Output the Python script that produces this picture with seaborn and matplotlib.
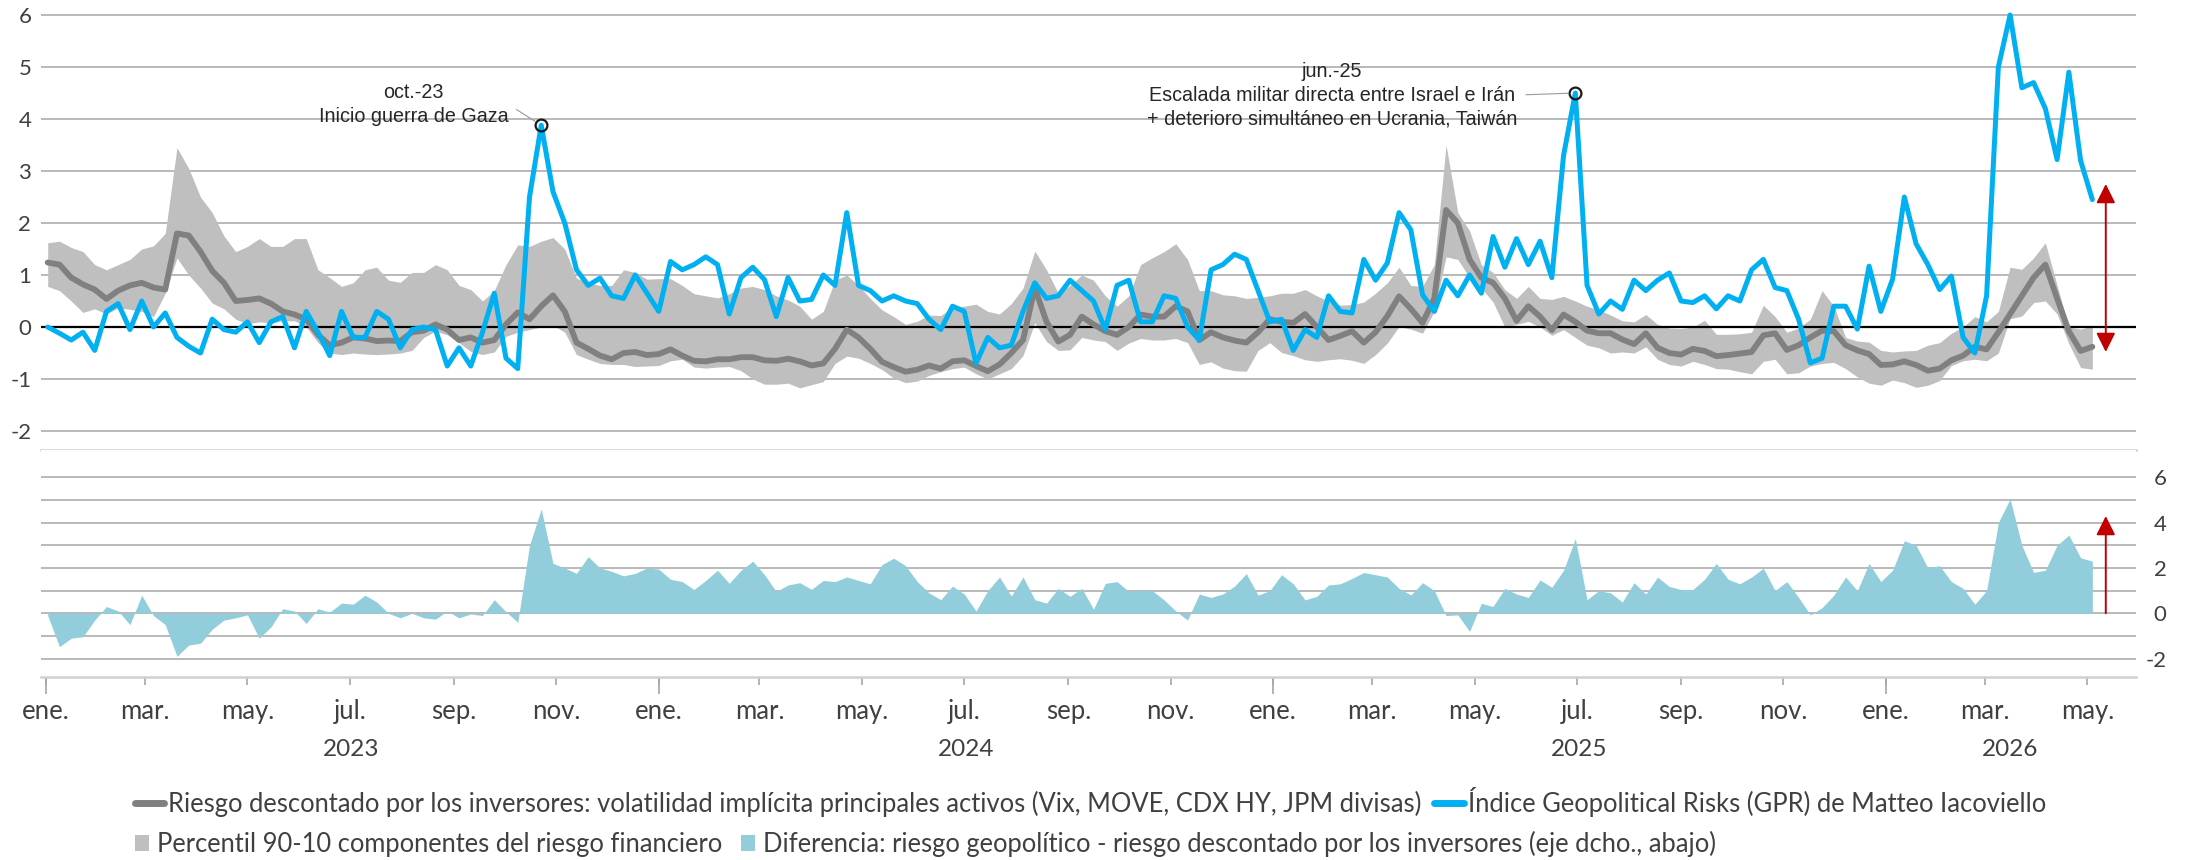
import numpy as np
import pandas as pd
import matplotlib
matplotlib.use("Agg")
import matplotlib.pyplot as plt
import matplotlib.dates as mdates
from matplotlib.ticker import FuncFormatter
from matplotlib.lines import Line2D
from matplotlib.patches import Patch
import seaborn as sns

# ---------------- data (weekly, starting 2023-01-02) ----------------
START = "2023-01-02"

gpr = [0.0, -0.12, -0.25, -0.1, -0.45, 0.3, 0.45, -0.05, 0.5, 0.0,
       0.27, -0.2, -0.37, -0.5, 0.15, -0.05, -0.1, 0.1, -0.3, 0.1,
       0.2, -0.4, 0.3, -0.1, -0.55, 0.3, -0.2, -0.2, 0.3, 0.15,
       -0.4, -0.05, 0.0, -0.05, -0.75, -0.4, -0.75, -0.1, 0.65, -0.6,
       -0.8, 2.5, 3.88, 2.6, 2.0,
       1.1, 0.8, 0.94, 0.6, 0.55, 1.0, 0.65, 0.3, 1.26, 1.1,
       1.2, 1.35, 1.2, 0.25, 0.95, 1.15, 0.91, 0.2, 0.95, 0.5,
       0.53, 1.0, 0.8, 2.2, 0.8, 0.7, 0.5, 0.6, 0.5, 0.45,
       0.15, -0.05, 0.4, 0.3, -0.7, -0.2, -0.4, -0.35, 0.3, 0.85,
       0.55, 0.6, 0.9, 0.7,
       0.5, -0.05, 0.8, 0.9, 0.1, 0.1, 0.6, 0.55, 0.0, -0.25,
       1.1, 1.2, 1.4, 1.3, 0.7, 0.1, 0.15, -0.45, -0.05, -0.2,
       0.6, 0.3, 0.27, 1.3, 0.9, 1.23, 2.2, 1.87, 0.62, 0.3,
       0.9, 0.6, 1.0, 0.65, 1.74, 1.15, 1.7, 1.2, 1.65, 0.95,
       3.3, 4.5, 0.8, 0.25,
       0.5, 0.34, 0.9, 0.7, 0.9, 1.04, 0.5, 0.47, 0.6, 0.35,
       0.6, 0.5, 1.1, 1.3, 0.76, 0.7, 0.15, -0.69, -0.6, 0.4,
       0.4, -0.04, 1.17, 0.3, 0.92, 2.5, 1.6, 1.2, 0.72, 0.98,
       -0.2, -0.5, 0.6, 5.0, 6.0, 4.6, 4.7, 4.2, 3.22, 4.9,
       3.2, 2.45]

riesgo = [1.24, 1.2, 0.95, 0.82, 0.72, 0.54, 0.7, 0.8, 0.85, 0.76,
          0.72, 1.8, 1.76, 1.45, 1.08, 0.85, 0.5, 0.52, 0.55, 0.45,
          0.3, 0.24, 0.15, -0.15, -0.35, -0.3, -0.2, -0.22, -0.27, -0.26,
          -0.27, -0.1, -0.07, 0.05, -0.05, -0.25, -0.2, -0.3, -0.25, 0.05,
          0.28, 0.15, 0.4, 0.61, 0.3,
          -0.3, -0.42, -0.55, -0.62, -0.5, -0.48, -0.54, -0.52, -0.43, -0.55,
          -0.65, -0.66, -0.62, -0.62, -0.58, -0.58, -0.64, -0.65, -0.61, -0.66,
          -0.74, -0.7, -0.42, -0.05, -0.2, -0.42, -0.67, -0.77, -0.86, -0.82,
          -0.74, -0.8, -0.66, -0.64, -0.75, -0.85, -0.72, -0.5, -0.25, 0.75,
          0.1, -0.28, -0.15, 0.2,
          0.05, -0.08, -0.15, 0.0, 0.24, 0.2, 0.2, 0.4, 0.3, -0.25,
          -0.1, -0.2, -0.26, -0.3, -0.1, 0.15, 0.1, 0.08, 0.25, 0.0,
          -0.25, -0.17, -0.08, -0.3, -0.1, 0.21, 0.59, 0.35, 0.08, 0.55,
          2.25, 2.0, 1.3, 0.95, 0.85, 0.55, 0.12, 0.4, 0.2, -0.06,
          0.24, 0.1, -0.07, -0.12,
          -0.12, -0.24, -0.33, -0.12, -0.4, -0.5, -0.53, -0.42, -0.46, -0.56,
          -0.54, -0.51, -0.48, -0.16, -0.12, -0.44, -0.35, -0.2, -0.07, -0.08,
          -0.35, -0.45, -0.52, -0.73, -0.72, -0.66, -0.73, -0.84, -0.8, -0.64,
          -0.55, -0.38, -0.43, -0.1, 0.25, 0.6, 0.95, 1.2, 0.55, -0.08,
          -0.46, -0.38]

p90 = [1.62, 1.65, 1.53, 1.45, 1.2, 1.1, 1.2, 1.3, 1.5, 1.56,
       1.8, 3.45, 3.05, 2.5, 2.2, 1.75, 1.45, 1.55, 1.7, 1.55,
       1.55, 1.7, 1.7, 1.1, 0.95, 0.78, 0.85, 1.1, 1.15, 0.9,
       0.86, 1.05, 1.05, 1.2, 1.1, 0.8, 0.72, 0.5, 0.7, 1.2,
       1.58, 1.55, 1.65, 1.72, 1.5,
       0.94, 0.85, 0.8, 0.8, 1.1, 1.05, 0.92, 0.93, 0.93, 0.8,
       0.64, 0.6, 0.56, 0.64, 0.75, 0.78, 0.72, 0.6, 0.52, 0.4,
       0.15, 0.3, 0.9, 1.0, 0.8, 0.55, 0.33, 0.2, 0.05, 0.11,
       0.23, 0.22, 0.38, 0.4, 0.44, 0.3, 0.25, 0.45, 0.75, 1.46,
       1.1, 0.65, 0.8, 1.0,
       0.9, 0.6, 0.4, 0.6, 1.2, 1.33, 1.45, 1.6, 1.3, 0.7,
       0.7, 0.62, 0.6, 0.55, 0.57, 0.6, 0.65, 0.65, 0.72, 0.6,
       0.5, 0.42, 0.43, 0.48, 0.65, 0.85, 1.15, 0.8, 0.78, 1.2,
       3.5, 2.2, 1.85, 1.2, 1.05, 0.72, 0.55, 0.78, 0.55, 0.53,
       0.59, 0.5, 0.4, 0.33,
       0.23, 0.12, 0.1, 0.24, 0.05, -0.02, -0.03, 0.0, 0.13, -0.14,
       -0.14, -0.13, -0.1, 0.42, 0.2, -0.1, -0.02, 0.15, 0.7, 0.4,
       -0.2, -0.27, -0.29, -0.45, -0.48, -0.46, -0.45, -0.35, -0.3, -0.12,
       0.0, 0.2, 0.1, 0.3, 1.15, 1.11, 1.33, 1.62, 0.8, 0.0,
       -0.04, 0.02]

p10 = [0.78, 0.7, 0.5, 0.28, 0.35, 0.25, 0.37, 0.34, 0.3, 0.2,
       0.65, 1.33, 1.0, 0.75, 0.46, 0.35, 0.15, 0.06, 0.1, 0.08,
       0.12, 0.12, 0.0, -0.3, -0.5, -0.53, -0.5, -0.52, -0.53, -0.52,
       -0.5, -0.45, -0.2, -0.08, -0.15, -0.3, -0.47, -0.53, -0.48, -0.18,
       -0.1, -0.05, 0.0, 0.03, -0.1,
       -0.53, -0.62, -0.7, -0.72, -0.72, -0.76, -0.75, -0.74, -0.65, -0.62,
       -0.77, -0.79, -0.77, -0.76, -0.84, -1.0, -1.1, -1.1, -1.08, -1.17,
       -1.11, -1.05, -0.7, -0.56, -0.6, -0.7, -0.82, -0.98, -1.07, -1.04,
       -0.93, -0.86, -0.8, -0.77, -0.9, -1.0, -0.9, -0.8, -0.55, 0.08,
       -0.28, -0.45, -0.44, -0.2,
       -0.25, -0.28, -0.45, -0.31, -0.22, -0.25, -0.25, -0.22, -0.3, -0.72,
       -0.67, -0.79, -0.84, -0.85, -0.45, -0.3, -0.49, -0.55, -0.63, -0.66,
       -0.63, -0.61, -0.64, -0.7, -0.53, -0.31, 0.01, -0.04, -0.12, 0.3,
       1.35, 1.3, 0.95, 0.75, 0.48, 0.0, 0.05, 0.11, 0.0, -0.16,
       -0.05, -0.2, -0.35, -0.4,
       -0.5, -0.48, -0.5, -0.38, -0.62, -0.72, -0.75, -0.66, -0.72, -0.8,
       -0.81, -0.86, -0.9, -0.66, -0.62, -0.9, -0.88, -0.75, -0.7, -0.68,
       -0.8, -0.96, -1.08, -1.12, -1.02, -1.07, -1.16, -1.12, -1.03, -0.74,
       -0.65, -0.62, -0.65, -0.5, 0.16, 0.21, 0.47, 0.5, 0.25, -0.32,
       -0.78, -0.81]

diferencia = [-0.1, -1.47, -1.1, -1.03, -0.3, 0.3, 0.1, -0.5, 0.8, -0.1,
              -0.5, -1.9, -1.4, -1.32, -0.7, -0.3, -0.2, -0.07, -1.1, -0.6,
              0.2, 0.1, -0.45, 0.2, 0.05, 0.45, 0.4, 0.8, 0.5, 0.0,
              -0.2, 0.0, -0.2, -0.26, 0.1, -0.2, -0.03, -0.1, 0.6, 0.07,
              -0.4, 3.0, 4.6, 2.2, 2.0, 1.76, 2.5, 2.0, 1.85, 1.65,
              1.76, 2.0, 1.95, 1.5, 1.4, 1.05, 1.45, 1.9, 1.32, 1.9,
              2.3, 1.7, 0.96, 1.25, 1.35, 1.06, 1.45, 1.4, 1.6, 1.45,
              1.3, 2.15, 2.43, 2.1, 1.4, 0.9, 0.6, 1.2, 0.85, 0.1,
              1.0, 1.6, 0.76, 1.6, 0.6, 0.45, 1.1, 0.75, 1.1, 0.18,
              1.32, 1.4, 0.96, 1.0, 1.0, 0.59, 0.1, -0.3, 0.85, 0.7,
              0.85, 1.2, 1.75, 0.8, 1.0, 1.7, 1.3, 0.59, 0.75, 1.25,
              1.3, 1.54, 1.8, 1.7, 1.6, 1.1, 0.81, 1.35, 1.0,
              -0.1, -0.07, -0.8, 0.44, 0.3, 1.1, 0.85, 0.7, 1.47, 1.15,
              1.9, 3.3, 0.6, 1.0, 0.9, 0.5, 1.35, 0.85, 1.6, 1.18,
              1.05, 1.05, 1.5, 2.2, 1.5, 1.3, 1.6, 1.99, 1.0, 1.4,
              0.7, -0.07, 0.25, 0.8, 1.6, 1.0, 2.2, 1.4, 1.9, 3.2,
              3.0, 2.0, 2.1, 1.4, 1.1, 0.4, 1.0, 4.0, 5.05, 3.0,
              1.8, 1.9, 3.0, 3.45, 2.45, 2.3]

month_labels = ["ene.", "feb.", "mar.", "abr.", "may.", "jun.",
                "jul.", "ago.", "sep.", "oct.", "nov.", "dic."]
year_labels = ["2023", "2024", "2025", "2026"]
top_ticks = [-2, -1, 0, 1, 2, 3, 4, 5, 6]
bottom_ticks = [-2, 0, 2, 4, 6]

legend_labels = [
    "Riesgo descontado por los inversores: volatilidad implícita principales activos (Vix, MOVE, CDX HY, JPM divisas)",
    "Índice Geopolitical Risks (GPR) de Matteo Iacoviello",
    "Percentil 90-10 componentes del riesgo financiero",
    "Diferencia: riesgo geopolítico - riesgo descontado por los inversores (eje dcho., abajo)",
]
ann_gaza = "oct.-23\nInicio guerra de Gaza"
ann_iran = "jun.-25\nEscalada militar directa entre Israel e Irán\n+ deterioro simultáneo en Ucrania, Taiwán"

# ---------------- frame ----------------
dates = pd.date_range(START, periods=len(gpr), freq="7D")
df = pd.DataFrame({"fecha": dates, "gpr": gpr, "riesgo": riesgo,
                   "p90": p90, "p10": p10, "dif": diferencia})

sns.set_theme(style="white")
plt.rcParams["font.family"] = ["Lato", "DejaVu Sans"]

C_BLUE = "#00B0F0"
C_GRAYLINE = "#808080"
C_BAND = "#BFBFBF"
C_DIF = "#92CDDC"
C_GRID = "#A6A6A6"
C_AXIS = "#D0D0D0"
C_TXT = "#404040"
C_RED = "#C00000"

W, H = 2190, 860
fig = plt.figure(figsize=(W / 100, H / 100), dpi=100)


def px_axes(x0, y0, x1, y1):
    return fig.add_axes([x0 / W, 1 - y1 / H, (x1 - x0) / W, (y1 - y0) / H])


ax = px_axes(41, 10, 2136, 450)
axb = px_axes(41, 450, 2136, 677)

xmin, xmax = pd.Timestamp("2022-12-29"), pd.Timestamp("2026-05-30")

# ---------------- top panel ----------------
ax.fill_between(df["fecha"], df["p10"], df["p90"], color=C_BAND, lw=0, zorder=1)
ax.axhline(0, color="black", lw=1.6, zorder=2)
sns.lineplot(data=df, x="fecha", y="riesgo", ax=ax, color=C_GRAYLINE,
             linewidth=4.2, zorder=3)
sns.lineplot(data=df, x="fecha", y="gpr", ax=ax, color=C_BLUE,
             linewidth=3.6, zorder=4)

ax.set_xlim(xmin, xmax)
ax.set_ylim(-2.365, 6.096)
ax.set_yticks(top_ticks)
ax.set_yticklabels([str(t) for t in top_ticks])
ax.yaxis.grid(True, color=C_GRID, lw=1.1)
ax.set_axisbelow(True)
ax.tick_params(axis="y", length=0, pad=7, labelsize=16, labelcolor=C_TXT)
ax.tick_params(axis="x", length=0, labelbottom=False)
ax.set_xlabel("")
ax.set_ylabel("")
for s in ["top", "left", "right"]:
    ax.spines[s].set_visible(False)
ax.spines["bottom"].set_color(C_AXIS)
ax.spines["bottom"].set_linewidth(1.8)

# annotated peaks (taken from the data)
m1 = (df["fecha"] > "2023-09-01") & (df["fecha"] < "2023-12-31")
i1 = df.loc[m1, "gpr"].idxmax()
m2 = (df["fecha"] > "2025-05-01") & (df["fecha"] < "2025-08-31")
i2 = df.loc[m2, "gpr"].idxmax()
for i in (i1, i2):
    ax.plot(df.loc[i, "fecha"], df.loc[i, "gpr"], "o", mfc="none", mec="#1a1a1a",
            ms=8.5, mew=1.6, zorder=6)

ann_kw = dict(ha="center", va="center", fontsize=14.2,
              family=["Liberation Sans", "DejaVu Sans"], color="#262626",
              linespacing=1.3, zorder=7)
ax.annotate(ann_gaza, xy=(df.loc[i1, "fecha"], df.loc[i1, "gpr"]),
            xytext=(pd.Timestamp("2023-08-08"), 4.28),
            arrowprops=dict(arrowstyle="-", color="#9a9a9a", lw=0.8,
                            relpos=(1.0, 0.5), shrinkA=4, shrinkB=5), **ann_kw)
ax.annotate(ann_iran, xy=(df.loc[i2, "fecha"], df.loc[i2, "gpr"]),
            xytext=(pd.Timestamp("2025-02-05"), 4.46),
            arrowprops=dict(arrowstyle="-", color="#9a9a9a", lw=0.8,
                            relpos=(1.0, 0.5), shrinkA=4, shrinkB=5), **ann_kw)

# red arrows
arrow_x = df["fecha"].iloc[-1] + pd.Timedelta(days=8)
ax.annotate("", xy=(arrow_x, 2.75), xytext=(arrow_x, -0.48),
            arrowprops=dict(arrowstyle="<|-|>,head_length=0.4,head_width=0.2",
                            color=C_RED, lw=1.4, mutation_scale=29,
                            shrinkA=0, shrinkB=0), zorder=8)

# ---------------- bottom panel ----------------
axb.fill_between(df["fecha"], 0, df["dif"], color=C_DIF, lw=0, zorder=2)
axb.set_xlim(xmin, xmax)
axb.set_ylim(-2.81, 7.203)
axb.yaxis.tick_right()
axb.set_yticks(bottom_ticks)
axb.set_yticklabels([str(t) for t in bottom_ticks])
axb.set_yticks([-1, 1, 3, 5], minor=True)
axb.yaxis.grid(True, which="both", color=C_GRID, lw=1.1)
axb.set_axisbelow(True)
axb.tick_params(axis="y", which="both", length=0, pad=22, labelsize=16,
                labelcolor=C_TXT)
for lab in axb.get_yticklabels():
    lab.set_horizontalalignment("right")
for s in ["top", "left", "right"]:
    axb.spines[s].set_visible(False)
axb.spines["bottom"].set_color(C_AXIS)
axb.spines["bottom"].set_linewidth(1.8)

axb.xaxis.set_major_locator(mdates.MonthLocator(bymonth=(1, 3, 5, 7, 9, 11)))
axb.xaxis.set_major_formatter(
    FuncFormatter(lambda v, p: month_labels[mdates.num2date(v).month - 1]))
axb.xaxis.set_minor_locator(mdates.YearLocator())
axb.xaxis.remove_overlapping_locs = False
axb.tick_params(axis="x", which="major", length=6, width=1.2, color=C_GRID,
                pad=10, labelsize=18.5, labelcolor=C_TXT, direction="out",
                bottom=True)
axb.tick_params(axis="x", which="minor", length=12, width=1.2, color=C_GRID,
                direction="out", bottom=True, labelbottom=False)

year_pos = [pd.Timestamp("2023-07-02"), pd.Timestamp("2024-07-02"),
            pd.Timestamp("2025-07-02"), pd.Timestamp("2026-03-16")]
for yp, yl in zip(year_pos, year_labels):
    axb.text(yp, -0.32, yl, transform=axb.get_xaxis_transform(),
             ha="center", va="center", fontsize=17.5, color=C_TXT)

axb.annotate("", xy=(arrow_x, 4.29), xytext=(arrow_x, 0),
             arrowprops=dict(arrowstyle="-|>,head_length=0.4,head_width=0.2",
                             color=C_RED, lw=1.4, mutation_scale=29,
                             shrinkA=0, shrinkB=0), zorder=8)
axb.set_xlabel("")
axb.set_ylabel("")

# ---------------- legends ----------------
leg1 = fig.legend(
    handles=[Line2D([], [], color=C_GRAYLINE, lw=5), Line2D([], [], color=C_BLUE, lw=5)],
    labels=legend_labels[:2], loc="center left",
    bbox_to_anchor=(135 / W, 1 - 802 / H), ncol=2, frameon=False, fontsize=18.4,
    handlelength=1.15, handletextpad=0.15, columnspacing=0.5,
    borderpad=0, borderaxespad=0, labelcolor=C_TXT)
leg2 = fig.legend(
    handles=[Patch(facecolor=C_BAND, lw=0), Patch(facecolor=C_DIF, lw=0)],
    labels=legend_labels[2:], loc="center left",
    bbox_to_anchor=(135 / W, 1 - 844 / H), ncol=2, frameon=False, fontsize=18.4,
    handlelength=0.55, handleheight=0.6, handletextpad=0.3, columnspacing=0.75,
    borderpad=0, borderaxespad=0, labelcolor=C_TXT)

fig.savefig("out.png", dpi=100)
